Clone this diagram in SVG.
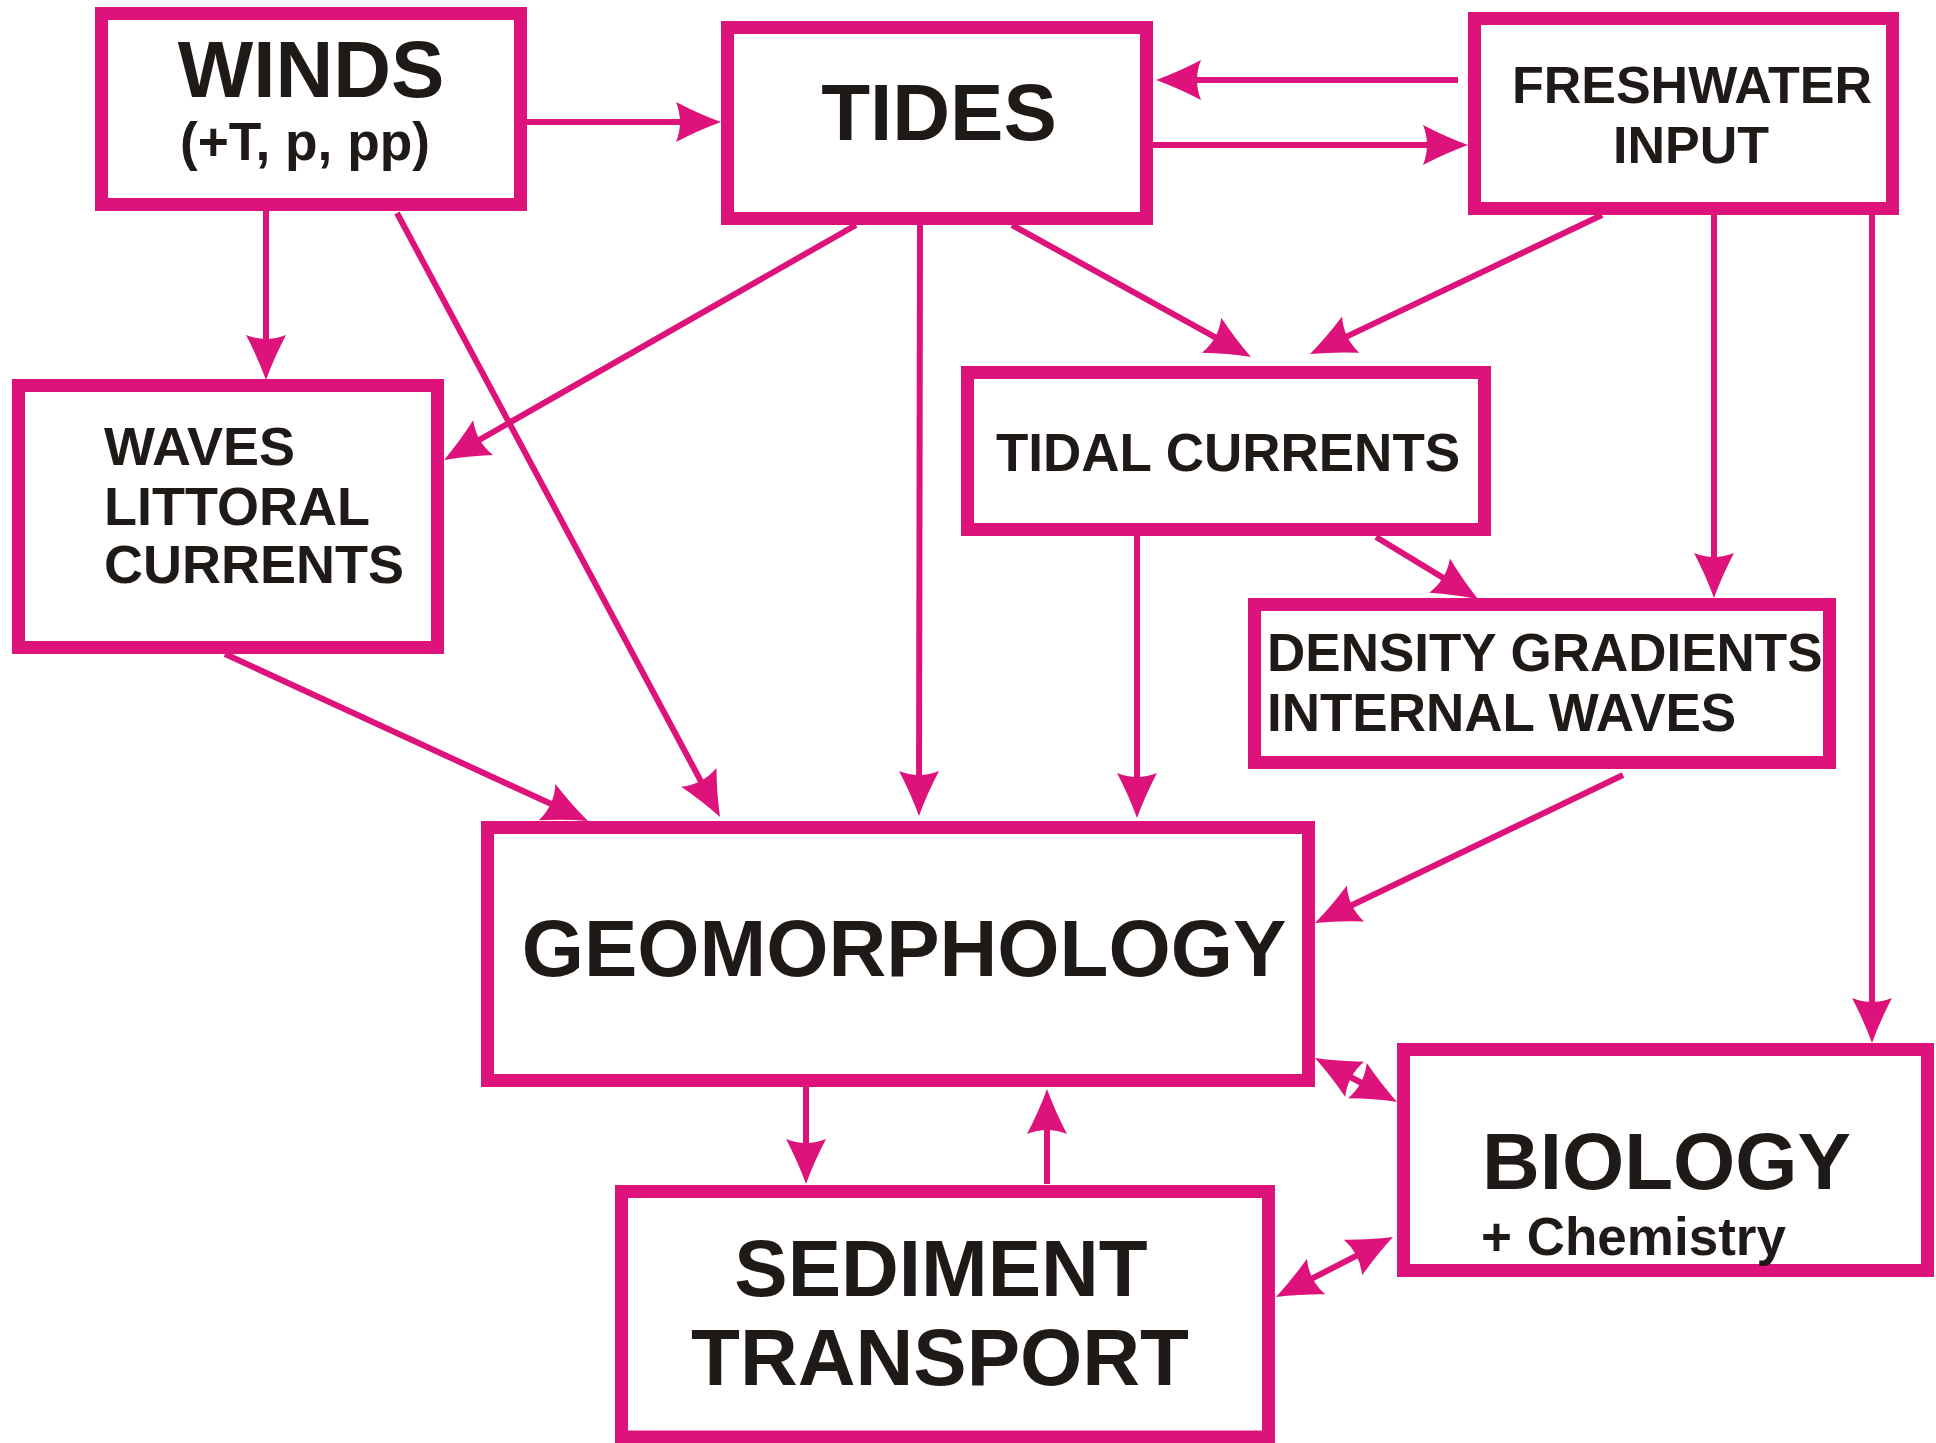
<svg xmlns="http://www.w3.org/2000/svg" width="1936" height="1443" viewBox="0 0 1936 1443">
  <style>
    .box { fill: #ffffff; stroke: #DD137B; stroke-width: 13; }
    .lbl { font-family: "Liberation Sans", Arial, sans-serif; font-weight: bold; fill: #1F1A17; }
    .big { font-size: 80px; }
    .mid { font-size: 53px; }
    .c { text-anchor: middle; }
    .link { fill: none; stroke: #DD137B; stroke-width: 6; }
  </style>
  <defs>
    <!-- concave-backed arrowhead; tip sits 20px beyond the line end -->
    <marker id="ah" viewBox="-27 -22 49 44" refX="0" refY="0" markerWidth="49" markerHeight="44" markerUnits="userSpaceOnUse" orient="auto-start-reverse">
      <path d="M20,0 Q-2,-8 -25,-20 Q-17,0 -25,20 Q-2,8 20,0Z" fill="#DD137B"/>
    </marker>
  </defs>
  <rect width="1936" height="1443" fill="#ffffff"/>

  <g id="connectors">
    <line class="link" x1="527" y1="122" x2="701" y2="122" marker-end="url(#ah)"/>
    <line class="link" x1="1458" y1="80" x2="1176" y2="80" marker-end="url(#ah)"/>
    <line class="link" x1="1153" y1="145" x2="1448" y2="145" marker-end="url(#ah)"/>
    <line class="link" x1="266" y1="211" x2="266" y2="360" marker-end="url(#ah)"/>
    <line class="link" x1="397" y1="213" x2="710.6" y2="799.4" marker-end="url(#ah)"/>
    <line class="link" x1="856" y1="225" x2="461.4" y2="450.1" marker-end="url(#ah)"/>
    <line class="link" x1="920" y1="225" x2="919" y2="796" marker-end="url(#ah)"/>
    <line class="link" x1="1012" y1="225" x2="1233.5" y2="347.3" marker-end="url(#ah)"/>
    <line class="link" x1="1602" y1="215" x2="1328.1" y2="345.4" marker-end="url(#ah)"/>
    <line class="link" x1="225" y1="654" x2="569.8" y2="812.6" marker-end="url(#ah)"/>
    <line class="link" x1="1137" y1="536" x2="1137" y2="798" marker-end="url(#ah)"/>
    <line class="link" x1="1376" y1="537" x2="1460.9" y2="588.6" marker-end="url(#ah)"/>
    <line class="link" x1="1714" y1="215" x2="1714" y2="578" marker-end="url(#ah)"/>
    <line class="link" x1="1872" y1="215" x2="1872" y2="1023" marker-end="url(#ah)"/>
    <line class="link" x1="1623" y1="775" x2="1333" y2="914.3" marker-end="url(#ah)"/>
    <line class="link" x1="806" y1="1087" x2="806" y2="1164" marker-end="url(#ah)"/>
    <line class="link" x1="1047" y1="1184" x2="1047" y2="1109" marker-end="url(#ah)"/>
    <line class="link" x1="1332.6" y1="1067.5" x2="1379.4" y2="1092.5" marker-start="url(#ah)" marker-end="url(#ah)"/>
    <line class="link" x1="1293.8" y1="1287.9" x2="1375.2" y2="1246.1" marker-start="url(#ah)" marker-end="url(#ah)"/>
  </g>

  <g id="winds">
    <rect class="box" x="101.5" y="13.5" width="419" height="191"/>
    <text class="lbl big c" x="311" y="97">WINDS</text>
    <text class="lbl c" x="305" y="160" font-size="54" textLength="250" lengthAdjust="spacingAndGlyphs">(+T, p, pp)</text>
  </g>

  <g id="tides">
    <rect class="box" x="727.5" y="27.5" width="419" height="191"/>
    <text class="lbl big c" x="939" y="140">TIDES</text>
  </g>

  <g id="freshwater">
    <rect class="box" x="1474.5" y="18.5" width="418" height="190"/>
    <text class="lbl c" x="1692" y="103" font-size="52">FRESHWATER</text>
    <text class="lbl c" x="1691" y="163" font-size="52">INPUT</text>
  </g>

  <g id="waves">
    <rect class="box" x="18.5" y="385.5" width="419" height="262"/>
    <text class="lbl" x="104" y="465" font-size="54">WAVES</text>
    <text class="lbl" x="104" y="525" font-size="54">LITTORAL</text>
    <text class="lbl" x="104" y="583" font-size="54">CURRENTS</text>
  </g>

  <g id="tidal-currents">
    <rect class="box" x="967.5" y="372.5" width="517" height="157"/>
    <text class="lbl mid c" x="1228" y="471">TIDAL CURRENTS</text>
  </g>

  <g id="density">
    <rect class="box" x="1254.5" y="604.5" width="575" height="158"/>
    <text class="lbl mid" x="1267" y="671">DENSITY GRADIENTS</text>
    <text class="lbl mid" x="1267" y="731">INTERNAL WAVES</text>
  </g>

  <g id="geomorphology">
    <rect class="box" x="487.5" y="827.5" width="821" height="253"/>
    <text class="lbl big c" x="904" y="976">GEOMORPHOLOGY</text>
  </g>

  <g id="sediment-transport">
    <rect class="box" x="621.5" y="1191.5" width="647" height="245.5"/>
    <text class="lbl big c" x="941" y="1296">SEDIMENT</text>
    <text class="lbl big c" x="940" y="1385">TRANSPORT</text>
  </g>

  <g id="biology">
    <rect class="box" x="1403.5" y="1049.5" width="524" height="221"/>
    <text class="lbl big" x="1482" y="1189">BIOLOGY</text>
    <text class="lbl mid" x="1481" y="1255">+ Chemistry</text>
  </g>
</svg>
